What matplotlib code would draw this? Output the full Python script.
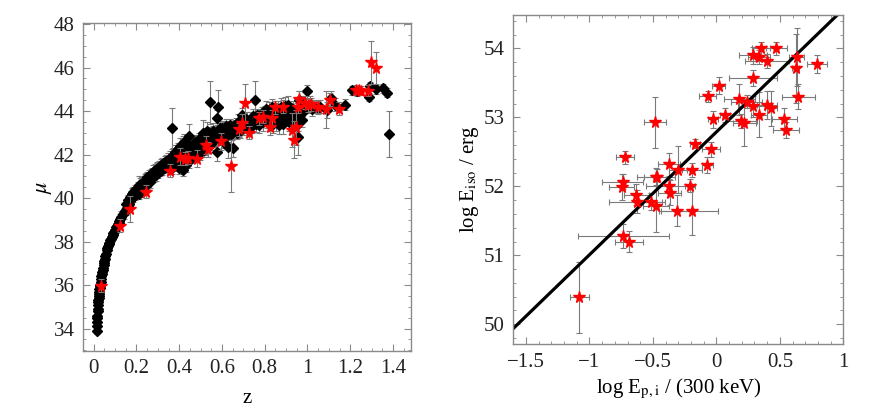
import matplotlib
matplotlib.use("Agg")
import matplotlib.pyplot as plt
from matplotlib.ticker import MultipleLocator

plt.rcParams['font.family'] = ['Liberation Serif', 'DejaVu Serif']
plt.rcParams['mathtext.fontset'] = 'stix'

# ---- left panel: Hubble diagram (SNe Ia = black diamonds, GRBs = red stars)
z_sn = [0.014, 0.015, 0.016, 0.016, 0.017, 0.018, 0.019, 0.020, 0.021, 0.022,
        0.023, 0.024, 0.025, 0.026, 0.027, 0.028, 0.029, 0.030, 0.032, 0.034,
        0.036, 0.038, 0.040, 0.042, 0.044, 0.046, 0.048, 0.050, 0.052, 0.055,
        0.058, 0.061, 0.064, 0.067, 0.070, 0.073, 0.076, 0.080, 0.084, 0.088,
        0.092, 0.096, 0.100, 0.104, 0.108, 0.112, 0.116, 0.120, 0.125, 0.130,
        0.135, 0.140, 0.145, 0.150, 0.155, 0.160, 0.165, 0.170, 0.175, 0.180,
        0.185, 0.190, 0.195, 0.200,
        0.205, 0.210, 0.212, 0.215, 0.220, 0.225, 0.230, 0.235, 0.240, 0.245,
        0.250, 0.255, 0.260, 0.265, 0.270, 0.275, 0.280, 0.285, 0.290, 0.295,
        0.300, 0.305, 0.310, 0.315, 0.320, 0.325, 0.330, 0.335, 0.340, 0.345,
        0.350, 0.355, 0.360, 0.365, 0.368, 0.370, 0.375, 0.380, 0.385, 0.390,
        0.395, 0.400, 0.400, 0.405, 0.410, 0.410, 0.415, 0.420, 0.420, 0.425,
        0.430, 0.430, 0.435, 0.440, 0.445, 0.446, 0.450, 0.455, 0.460, 0.465,
        0.470, 0.475, 0.480, 0.485, 0.490, 0.495, 0.500, 0.505, 0.510, 0.515,
        0.520, 0.525, 0.530, 0.535, 0.540, 0.543, 0.545, 0.550, 0.555, 0.560,
        0.565, 0.570, 0.575, 0.578, 0.580, 0.583, 0.585, 0.590, 0.595, 0.600,
        0.605, 0.610, 0.615, 0.620, 0.625, 0.627, 0.630, 0.635, 0.640, 0.645,
        0.652, 0.655, 0.660, 0.670, 0.675, 0.680, 0.690, 0.695, 0.700, 0.710,
        0.720, 0.730, 0.740, 0.745, 0.753, 0.760, 0.770, 0.780, 0.790, 0.800,
        0.805, 0.810, 0.820, 0.825, 0.830, 0.835, 0.840, 0.845, 0.850, 0.855,
        0.860, 0.865, 0.870, 0.875, 0.880, 0.886, 0.890, 0.895, 0.900, 0.910,
        0.915, 0.920, 0.925, 0.930, 0.935, 0.940, 0.945, 0.950, 0.955, 0.956,
        0.960, 0.965, 0.970, 0.975, 0.980, 0.985, 0.996, 1.010, 1.020, 1.030,
        1.050, 1.060, 1.090, 1.108, 1.127, 1.177, 1.210, 1.230, 1.288, 1.291,
        1.322, 1.353, 1.372, 1.383,
        0.150, 0.160, 0.170, 0.178, 0.186, 0.195, 0.205, 0.218, 0.228, 0.238,
        0.248, 0.258, 0.268, 0.278, 0.288, 0.298, 0.308, 0.318, 0.328, 0.338,
        0.348, 0.358, 0.372, 0.382, 0.392, 0.402, 0.412, 0.422, 0.432, 0.442,
        0.452, 0.462, 0.472, 0.482, 0.492, 0.502, 0.512, 0.522, 0.532, 0.548,
        0.558, 0.568, 0.588, 0.598, 0.608, 0.618, 0.638, 0.648, 0.665, 0.685,
        0.705, 0.715, 0.725, 0.735, 0.765, 0.775, 0.785, 0.795]
mu_sn = [33.90, 34.10, 34.30, 34.50, 34.60, 34.80, 34.90, 35.10, 35.20, 35.30,
         35.40, 35.50, 35.60, 35.70, 35.80, 35.85, 35.95, 36.00, 36.15, 36.30,
         36.40, 36.50, 36.60, 36.70, 36.80, 36.90, 37.00, 37.10, 37.20, 37.35,
         37.45, 37.60, 37.70, 37.80, 37.90, 37.95, 38.05, 38.10, 38.20, 38.30,
         38.40, 38.45, 38.55, 38.65, 38.70, 38.80, 38.85, 38.95, 39.05, 39.15,
         39.25, 39.30, 39.40, 39.45, 39.55, 39.65, 39.75, 39.85, 39.95, 40.00,
         40.05, 40.10, 40.15, 40.20,
         40.30, 40.20, 40.60, 40.40, 40.30, 40.55, 40.45, 40.70, 40.55, 40.85,
         40.65, 40.80, 40.95, 40.75, 40.95, 41.10, 41.00, 41.20, 41.05, 41.30,
         41.15, 41.40, 41.25, 41.50, 41.30, 41.55, 41.40, 41.65, 41.45, 41.70,
         41.50, 41.75, 41.60, 41.40, 43.20, 41.80, 41.55, 41.90, 41.65, 42.05,
         41.75, 42.20, 41.40, 41.90, 42.40, 41.60, 42.10, 41.30, 42.50, 41.80,
         42.20, 41.50, 42.00, 42.35, 41.70, 42.85, 42.10, 41.90, 42.40, 42.10,
         41.95, 42.30, 42.15, 42.50, 42.30, 42.05, 42.40, 42.70, 43.00, 42.20,
         42.55, 42.75, 43.10, 42.35, 42.60, 44.40, 42.90, 42.50, 42.80, 43.10,
         42.65, 42.90, 43.70, 42.10, 43.00, 44.20, 42.75, 43.20, 42.90, 43.05,
         42.60, 43.15, 42.85, 43.00, 43.20, 42.35, 42.90, 43.10, 42.95, 43.20,
         42.30, 43.10, 43.25, 43.00, 43.50, 43.10, 43.30, 43.80, 43.20, 43.40,
         43.35, 43.60, 43.30, 43.75, 44.50, 43.40, 43.55, 43.70, 43.50, 43.90,
         44.10, 43.60, 44.05, 43.80, 43.50, 44.20, 43.40, 43.90, 44.00, 43.50,
         44.10, 43.35, 43.80, 44.20, 43.60, 43.40, 43.65, 44.25, 43.90, 44.30,
         43.50, 44.00, 43.70, 44.10, 43.55, 43.90, 43.30, 44.00, 43.50, 42.80,
         44.50, 43.80, 44.10, 43.60, 44.30, 44.00, 44.90, 44.30, 44.10, 44.20,
         44.15, 44.20, 44.05, 44.60, 44.30, 44.30, 44.95, 44.90, 44.65, 45.15,
         45.00, 45.05, 44.85, 42.95,
         39.75, 39.90, 40.05, 40.20, 40.30, 40.35, 40.50, 40.60, 40.70, 40.80,
         40.95, 41.00, 41.10, 41.20, 41.30, 41.35, 41.45, 41.55, 41.60, 41.70,
         41.75, 41.85, 42.00, 42.10, 42.25, 42.40, 42.00, 42.60, 41.95, 42.50,
         42.30, 42.20, 42.60, 42.40, 42.70, 42.50, 42.80, 42.35, 42.90, 42.70,
         43.00, 42.75, 43.00, 43.20, 42.95, 43.30, 43.35, 43.00, 43.40, 43.10,
         43.50, 43.60, 43.20, 43.45, 43.80, 43.35, 43.90, 43.65]
err_sn = [0.15, 0.15, 0.15, 0.15, 0.15, 0.15, 0.15, 0.15, 0.15, 0.15,
          0.15, 0.15, 0.15, 0.15, 0.15, 0.15, 0.15, 0.15, 0.15, 0.15,
          0.15, 0.15, 0.15, 0.15, 0.15, 0.15, 0.15, 0.15, 0.15, 0.15,
          0.15, 0.15, 0.15, 0.15, 0.20, 0.15, 0.20, 0.15, 0.20, 0.15,
          0.20, 0.20, 0.20, 0.20, 0.20, 0.20, 0.20, 0.20, 0.20, 0.25,
          0.20, 0.25, 0.20, 0.25, 0.20, 0.25, 0.20, 0.40, 0.25, 0.20,
          0.25, 0.20, 0.25, 0.20,
          0.25, 0.25, 0.40, 0.25, 0.25, 0.25, 0.25, 0.30, 0.25, 0.30,
          0.25, 0.30, 0.25, 0.30, 0.25, 0.30, 0.25, 0.30, 0.25, 0.30,
          0.25, 0.30, 0.25, 0.30, 0.25, 0.30, 0.25, 0.30, 0.25, 0.30,
          0.30, 0.30, 0.30, 0.30, 0.95, 0.30, 0.30, 0.30, 0.30, 0.30,
          0.30, 0.35, 0.30, 0.30, 0.35, 0.30, 0.30, 0.30, 0.35, 0.30,
          0.30, 0.30, 0.30, 0.30, 0.30, 0.55, 0.30, 0.30, 0.35, 0.30,
          0.30, 0.30, 0.30, 0.35, 0.30, 0.30, 0.30, 0.35, 0.60, 0.30,
          0.30, 0.35, 0.40, 0.30, 0.30, 1.00, 0.35, 0.30, 0.35, 0.35,
          0.30, 0.35, 0.35, 0.40, 0.35, 0.75, 0.30, 0.35, 0.30, 0.35,
          0.30, 0.35, 0.30, 0.35, 0.35, 0.50, 0.30, 0.35, 0.30, 0.35,
          0.40, 0.35, 0.35, 0.30, 0.35, 0.30, 0.35, 0.35, 0.30, 0.35,
          0.30, 0.35, 0.30, 0.35, 0.90, 0.35, 0.30, 0.35, 0.40, 0.35,
          0.35, 0.40, 0.35, 0.30, 0.40, 0.35, 0.40, 0.35, 0.35, 0.40,
          0.35, 0.40, 0.35, 0.40, 0.35, 0.45, 0.35, 0.40, 0.35, 0.40,
          0.40, 0.35, 0.40, 0.35, 0.45, 0.40, 0.40, 0.35, 0.40, 0.80,
          0.40, 0.35, 0.40, 0.35, 0.40, 0.35, 0.30, 0.40, 0.35, 0.30,
          0.30, 0.30, 0.35, 0.30, 0.30, 0.25, 0.20, 0.20, 0.20, 0.20,
          0.20, 0.20, 0.20, 1.05,
          0.20, 0.25, 0.20, 0.25, 0.20, 0.25, 0.25, 0.30, 0.25, 0.30,
          0.25, 0.30, 0.25, 0.30, 0.25, 0.30, 0.25, 0.30, 0.25, 0.30,
          0.30, 0.30, 0.30, 0.35, 0.30, 0.35, 0.30, 0.35, 0.30, 0.35,
          0.30, 0.35, 0.30, 0.35, 0.30, 0.35, 0.30, 0.35, 0.30, 0.35,
          0.30, 0.35, 0.30, 0.35, 0.30, 0.35, 0.30, 0.35, 0.30, 0.35,
          0.30, 0.35, 0.30, 0.35, 0.30, 0.35, 0.30, 0.35]

z_grb = [0.033, 0.123, 0.168, 0.246, 0.357, 0.405, 0.427, 0.443, 0.483, 0.524,
         0.535, 0.597, 0.641, 0.680, 0.695, 0.708, 0.727, 0.772, 0.792, 0.826,
         0.836, 0.848, 0.886, 0.926, 0.935, 0.945, 0.956, 0.960, 0.988, 1.002,
         1.018, 1.049, 1.085, 1.107, 1.146, 1.225, 1.241, 1.252, 1.283, 1.297,
         1.319]
mu_grb = [35.96, 38.72, 39.50, 40.30, 41.26, 41.90, 41.81, 41.86, 41.81, 42.44,
          42.24, 42.61, 41.46, 43.16, 43.47, 44.35, 43.01, 43.67, 43.74, 43.28,
          43.67, 44.17, 44.20, 43.13, 42.67, 43.25, 44.20, 44.54, 44.39, 44.26,
          44.32, 44.20, 44.08, 44.51, 44.11, 44.99, 44.97, 44.94, 44.94, 46.24,
          45.98]
err_grb = [0.30, 0.30, 0.60, 0.30, 0.30, 0.40, 0.30, 0.30, 0.40, 0.40,
           0.35, 0.40, 1.20, 0.30, 0.40, 0.90, 0.30, 0.30, 0.30, 0.40,
           0.40, 0.30, 0.30, 0.80, 0.85, 0.80, 0.30, 0.40, 0.30, 0.30,
           0.30, 0.30, 0.85, 0.30, 0.30, 0.20, 0.20, 0.20, 0.25, 1.00,
           0.75]

# ---- right panel: Amati relation
ep = [-1.080, -0.738, -0.691, -0.723, -0.738, -0.746, -0.631, -0.626, -0.515, -0.484,
      -0.473, -0.470, -0.476, -0.373, -0.371, -0.368, -0.305, -0.313, -0.190, -0.211,
      -0.190, -0.166, -0.043, -0.071, -0.069, -0.024, 0.018, 0.070, 0.181, 0.196,
      0.220, 0.238, 0.291, 0.288, 0.291, 0.336, 0.336, 0.351, 0.399, 0.396,
      0.430, 0.472, 0.535, 0.548, 0.624, 0.632, 0.645, 0.790]
eiso = [50.39, 51.28, 51.20, 52.42, 52.07, 51.99, 51.88, 51.78, 51.78, 52.93,
        52.14, 52.13, 51.72, 52.32, 52.01, 51.91, 52.24, 51.65, 52.24, 52.01,
        51.64, 52.62, 52.54, 52.31, 53.31, 52.97, 53.46, 53.04, 53.26, 52.95,
        52.92, 53.23, 53.16, 53.57, 53.90, 53.04, 53.88, 54.00, 53.82, 53.18,
        53.13, 54.00, 52.98, 52.82, 53.71, 53.88, 53.30, 53.78]
ep_err_lo = [0.076, 0.355, 0.11, 0.07, 0.16, 0.10, 0.10, 0.22, 0.09, 0.09,
             0.15, 0.10, 0.10, 0.085, 0.18, 0.09, 0.07, 0.14, 0.08, 0.04,
             0.25, 0.04, 0.07, 0.045, 0.065, 0.04, 0.05, 0.04, 0.12, 0.12,
             0.09, 0.12, 0.12, 0.19, 0.11, 0.06, 0.09, 0.07, 0.17, 0.08,
             0.05, 0.085, 0.10, 0.10, 0.03, 0.06, 0.13, 0.08]
ep_err_hi = [0.076, 0.362, 0.11, 0.07, 0.16, 0.10, 0.10, 0.22, 0.09, 0.09,
             0.15, 0.10, 0.10, 0.085, 0.18, 0.09, 0.07, 0.14, 0.08, 0.04,
             0.20, 0.04, 0.07, 0.045, 0.065, 0.04, 0.05, 0.04, 0.12, 0.12,
             0.09, 0.12, 0.12, 0.19, 0.11, 0.06, 0.09, 0.07, 0.17, 0.08,
             0.05, 0.085, 0.10, 0.10, 0.03, 0.06, 0.13, 0.08]
eiso_err = [0.51, 0.17, 0.15, 0.09, 0.11, 0.19, 0.15, 0.17, 0.12, 0.37,
            0.12, 0.12, 0.38, 0.17, 0.10, 0.18, 0.34, 0.22, 0.10, 0.09,
            0.35, 0.07, 0.11, 0.11, 0.08, 0.12, 0.12, 0.10, 0.22, 0.10,
            0.34, 0.10, 0.15, 0.12, 0.12, 0.33, 0.10, 0.10, 0.10, 0.20,
            0.25, 0.10, 0.15, 0.12, 0.50, 0.42, 0.18, 0.13]
fit_x = [-1.6, 1.0]
fit_y = [49.94, 54.57]

grey = '#7a7a7a'
frame = '#8a8a8a'

fig = plt.figure(figsize=(8.72, 4.16), dpi=100)
ax1 = fig.add_axes([0.0952, 0.1563, 0.3761, 0.7885])
ax2 = fig.add_axes([0.5887, 0.1724, 0.3784, 0.7923])

ax1.errorbar(z_sn, mu_sn, yerr=err_sn, fmt='none', ecolor=grey, elinewidth=0.8,
             capsize=2, capthick=0.8, zorder=1)
ax1.plot(z_sn, mu_sn, 'D', color='black', ms=5, zorder=2)
ax1.errorbar(z_grb, mu_grb, yerr=err_grb, fmt='none', ecolor=grey, elinewidth=0.8,
             capsize=2, capthick=0.8, zorder=3)
ax1.plot(z_grb, mu_grb, '*', color='red', ms=8.5, mec='red', zorder=4)
ax1.set_xlim(-0.05, 1.484)
ax1.set_ylim(32.97, 48.05)
ax1.xaxis.set_major_locator(MultipleLocator(0.2))
ax1.xaxis.set_minor_locator(MultipleLocator(0.05))
ax1.yaxis.set_major_locator(MultipleLocator(2))
ax1.yaxis.set_minor_locator(MultipleLocator(0.5))
ax1.set_xticks([0, 0.2, 0.4, 0.6, 0.8, 1.0, 1.2, 1.4])
ax1.set_xticklabels(['0', '0.2', '0.4', '0.6', '0.8', '1', '1.2', '1.4'])
ax1.set_xlabel('z', fontsize=15, labelpad=8)
ax1.set_ylabel(r'$\mu$', fontsize=16, labelpad=0)

ax2.errorbar(ep, eiso, xerr=[ep_err_lo, ep_err_hi], yerr=eiso_err, fmt='none',
             ecolor=grey, elinewidth=0.8, capsize=2, capthick=0.8, zorder=1)
ax2.plot(fit_x, fit_y, color='black', lw=2.3, zorder=2)
ax2.plot(ep, eiso, '*', color='red', ms=8.5, mec='red', zorder=3)
ax2.set_xlim(-1.6, 1.0)
ax2.set_ylim(49.71, 54.49)
ax2.xaxis.set_major_locator(MultipleLocator(0.5))
ax2.xaxis.set_minor_locator(MultipleLocator(0.1))
ax2.yaxis.set_major_locator(MultipleLocator(1))
ax2.yaxis.set_minor_locator(MultipleLocator(0.2))
ax2.set_xticks([-1.5, -1, -0.5, 0, 0.5, 1])
ax2.set_xticklabels(['\u22121.5', '\u22121', '\u22120.5', '0', '0.5', '1'])
ax2.set_xlabel(r'log E$_{\rm p,i}$ / (300 keV)', fontsize=15, labelpad=4)
ax2.set_ylabel(r'log E$_{\rm iso}$ / erg', fontsize=15, labelpad=2)

for ax in (ax1, ax2):
    for s in ax.spines.values():
        s.set_color(frame)
        s.set_linewidth(1.0)
    ax.tick_params(which='both', direction='in', top=True, right=True,
                   color=frame, labelsize=15, labelcolor='#222222', pad=6)
    ax.tick_params(which='major', length=5, width=0.8)
    ax.tick_params(which='minor', length=2.5, width=0.6)

fig.savefig('out.png', dpi=100)
